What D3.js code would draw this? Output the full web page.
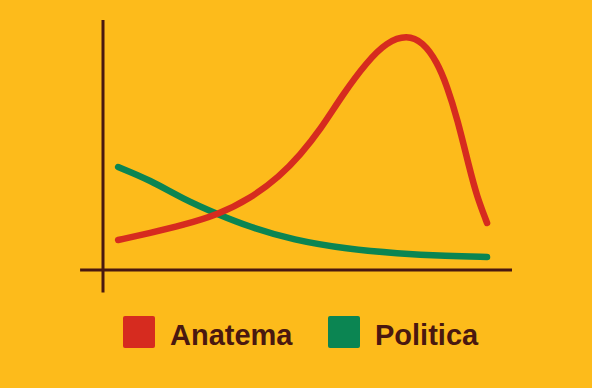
<!DOCTYPE html>
<html>
<head>
<meta charset="utf-8">
<script src="https://cdn.jsdelivr.net/npm/d3@7"></script>
<style>
  html, body { margin: 0; padding: 0; background: #FDBB1B; }
  svg { display: block; }
</style>
</head>
<body>
<div id="chart"></div>
<script>
// Series values (x and y on a 0..100 scale).
var seriesNames = ['Anatema', 'Politica'];
var seriesColors = ['#D62B1F', '#0B8552'];

var anatemaX = [3.7, 11.5, 19.6, 27.9, 35.9, 43.3, 48.2, 53.1, 58.7, 64.5, 69.4, 74.3, 78.2, 81.7, 84.1, 86.6, 89.7, 91.4, 93.9];
var anatemaY = [12.0, 14.8, 18.0, 22.0, 28.4, 37.6, 46.0, 56.0, 70.4, 83.2, 91.2, 94.0, 91.2, 83.2, 73.6, 60.8, 40.0, 29.6, 18.8];

var politicaX = [3.7, 11.5, 19.6, 27.9, 35.9, 46.5, 59.7, 71.9, 84.1, 93.9];
var politicaY = [41.2, 36.0, 28.4, 22.4, 17.2, 12.0, 8.4, 6.6, 5.6, 5.2];

var width = 592;
var height = 388;

var padding = {
  top: 20,
  left: 103,
  right: 80,
  bottom: 118
};

var x = d3.scaleLinear()
  .domain([0, 100])
  .range([padding.left, width - padding.right]);

var y = d3.scaleLinear()
  .domain([0, 100])
  .range([height - padding.bottom, padding.top]);

var svg = d3.select('#chart').append('svg')
  .attr('width', width)
  .attr('height', height);

svg.append('rect')
  .attr('width', width)
  .attr('height', height)
  .attr('fill', '#FDBB1B');

var axisColor = '#4A1810';

// Axes: plain strokes, no ticks.
svg.append('line')
  .attr('x1', x(0)).attr('x2', x(0))
  .attr('y1', y(100)).attr('y2', y(-9))
  .attr('stroke', axisColor)
  .attr('stroke-width', 3);

svg.append('line')
  .attr('x1', x(-5.6)).attr('x2', x(100))
  .attr('y1', y(0)).attr('y2', y(0))
  .attr('stroke', axisColor)
  .attr('stroke-width', 3);

var line = d3.line()
  .x(function(d) { return x(d[0]); })
  .y(function(d) { return y(d[1]); })
  .curve(d3.curveBasis);

var data = [
  d3.zip(anatemaX, anatemaY),
  d3.zip(politicaX, politicaY)
];

// Draw green first so red sits on top at the crossing.
for (var ii = data.length - 1; ii >= 0; ii--) {
  svg.append('path')
    .attr('d', line(data[ii]))
    .attr('fill', 'none')
    .attr('stroke', seriesColors[ii])
    .attr('stroke-width', 6.5)
    .attr('stroke-linecap', 'round')
    .attr('stroke-linejoin', 'round');
}

// Legend
var legend = svg.append('g')
  .attr('transform', 'translate(123, 316)');

var legendX = [0, 205];

seriesNames.forEach(function(name, i) {
  var item = legend.append('g')
    .attr('transform', 'translate(' + legendX[i] + ', 0)');

  item.append('rect')
    .attr('width', 32)
    .attr('height', 32)
    .attr('rx', 2)
    .attr('fill', seriesColors[i]);

  item.append('text')
    .attr('x', 47)
    .attr('y', 29)
    .attr('fill', axisColor)
    .style('font-family', '"Liberation Sans", Arial, sans-serif')
    .style('font-weight', 'bold')
    .style('font-size', '29px')
    .text(name);
});
</script>
</body>
</html>
